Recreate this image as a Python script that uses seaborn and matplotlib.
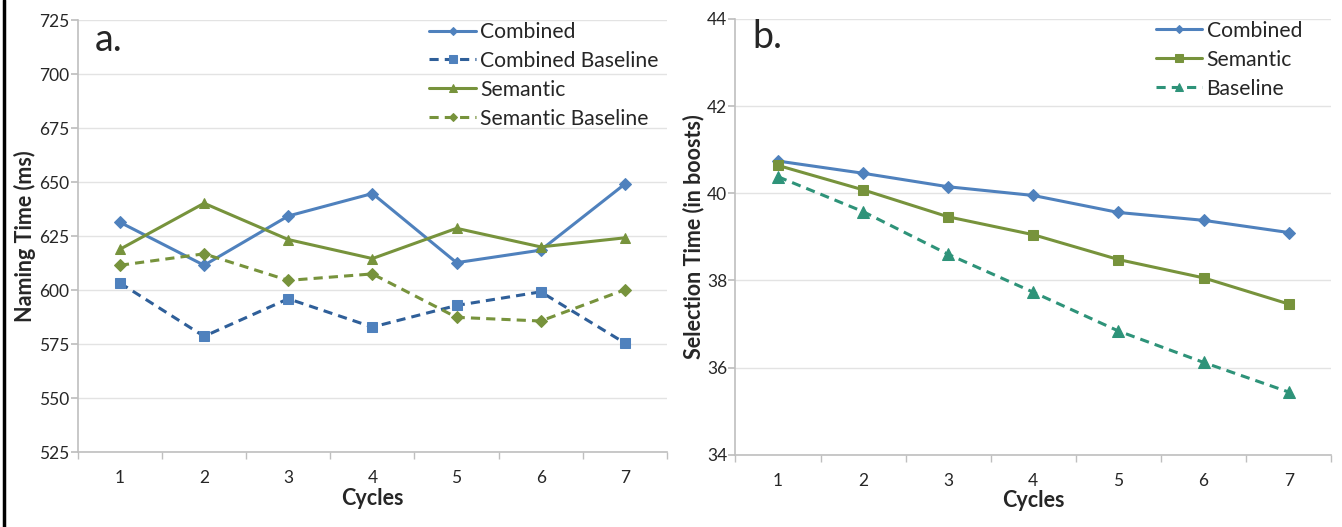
import pandas as pd
import matplotlib.pyplot as plt
import seaborn as sns
import numpy as np
from matplotlib.lines import Line2D

# Data
cycles = [1, 2, 3, 4, 5, 6, 7]

# panel a: naming time (ms)
combined_a = [631.4, 611.5, 634.3, 644.7, 612.7, 618.5, 649.1]
combined_base_a = [603.3, 578.6, 596.0, 582.9, 592.9, 599.2, 575.5]
semantic_a = [618.9, 640.2, 623.4, 614.6, 628.6, 620.0, 624.2]
semantic_base_a = [611.5, 616.8, 604.5, 607.5, 587.4, 585.7, 600.2]

# panel b: selection time (in boosts)
combined_b = [40.74, 40.46, 40.15, 39.95, 39.56, 39.38, 39.10]
semantic_b = [40.64, 40.08, 39.46, 39.05, 38.48, 38.06, 37.46]
baseline_b = [40.38, 39.58, 38.60, 37.73, 36.84, 36.12, 35.44]

blue = '#4F81BD'
dark_blue = '#2F5F99'
green = '#77933C'
teal = '#2E9379'

sns.set_theme(style='white')
plt.rcParams['font.family'] = ['Lato', 'DejaVu Sans']

df_a = pd.DataFrame({
    'Cycle': cycles * 4,
    'Time': combined_a + combined_base_a + semantic_a + semantic_base_a,
    'Series': ['Combined'] * 7 + ['Combined Baseline'] * 7
              + ['Semantic'] * 7 + ['Semantic Baseline'] * 7,
})
df_b = pd.DataFrame({
    'Cycle': cycles * 3,
    'Time': combined_b + semantic_b + baseline_b,
    'Series': ['Combined'] * 7 + ['Semantic'] * 7 + ['Baseline'] * 7,
})

# name: (line colour, marker colour, marker, size, dashes)
styles_a = {
    'Combined': (blue, blue, 'D', 6, None),
    'Combined Baseline': (dark_blue, blue, 's', 7, (3, 2)),
    'Semantic': (green, green, '^', 7, None),
    'Semantic Baseline': (green, green, 'D', 6, (3, 2)),
}
styles_b = {
    'Combined': (blue, blue, 'D', 6, None),
    'Semantic': (green, green, 's', 7, None),
    'Baseline': (teal, teal, '^', 8, (3, 2)),
}

fig = plt.figure(figsize=(13.42, 5.27), dpi=100)
ax1 = fig.add_axes([0.058, 0.142, 0.439, 0.82])
ax2 = fig.add_axes([0.548, 0.137, 0.444, 0.827])


def draw(ax, df, styles, anchor):
    for name, (lc, mc, mk, ms, dash) in styles.items():
        sub = df[df['Series'] == name]
        sns.lineplot(data=sub, x='Cycle', y='Time', ax=ax, color=lc,
                     marker=mk, markersize=ms, markerfacecolor=mc,
                     markeredgecolor=mc, linewidth=2.2, label=name,
                     linestyle='-' if dash is None else (0, dash))
    ax.set_xlim(0.5, 7.5)
    ax.set_xticks(cycles)
    ax.set_xticks(np.arange(0.5, 8, 1), minor=True)
    ax.tick_params(axis='x', which='major', length=0, labelsize=12.5, pad=13)
    ax.tick_params(axis='x', which='minor', length=5, color='#BFBFBF',
                   direction='out', bottom=True)
    ax.tick_params(axis='y', which='major', length=5, color='#BFBFBF',
                   direction='out', left=True, labelsize=12.5, pad=1)
    ax.yaxis.grid(True, color='#E3E3E3', linewidth=1)
    ax.set_axisbelow(True)
    for s in ['top', 'right']:
        ax.spines[s].set_visible(False)
    for s in ['left', 'bottom']:
        ax.spines[s].set_color('#BFBFBF')
        ax.spines[s].set_linewidth(1.2)
    ax.set_xlabel('Cycles', fontsize=15.5, fontweight='bold', labelpad=1)
    ax.legend(loc='upper right', frameon=False, fontsize=15.2,
              handlelength=2.2, handletextpad=0.2, labelspacing=0.42,
              borderaxespad=0.0, markerscale=0.75, bbox_to_anchor=anchor)


draw(ax1, df_a, styles_a, (1.0, 1.015))
ax1.set_ylim(525, 725)
ax1.set_yticks(np.arange(525, 726, 25))
ax1.set_ylabel('Naming Time (ms)', fontsize=15.5, fontweight='bold',
               labelpad=2)
ax1.text(0.028, 0.995, 'a.', transform=ax1.transAxes, fontsize=27,
         va='top', ha='left')

draw(ax2, df_b, styles_b, (0.965, 1.015))
ax2.set_ylim(34, 44)
ax2.set_yticks(np.arange(34, 45, 2))
ax2.set_ylabel('Selection Time (in boosts)', fontsize=15.5,
               fontweight='bold', labelpad=2)
ax2.text(0.028, 1.0, 'b.', transform=ax2.transAxes, fontsize=27,
         va='top', ha='left')

# left border of the original image
fig.add_artist(Line2D([0.003, 0.003], [0, 1], color='black', linewidth=2.5,
                      transform=fig.transFigure))

fig.savefig('out.png', dpi=100)
